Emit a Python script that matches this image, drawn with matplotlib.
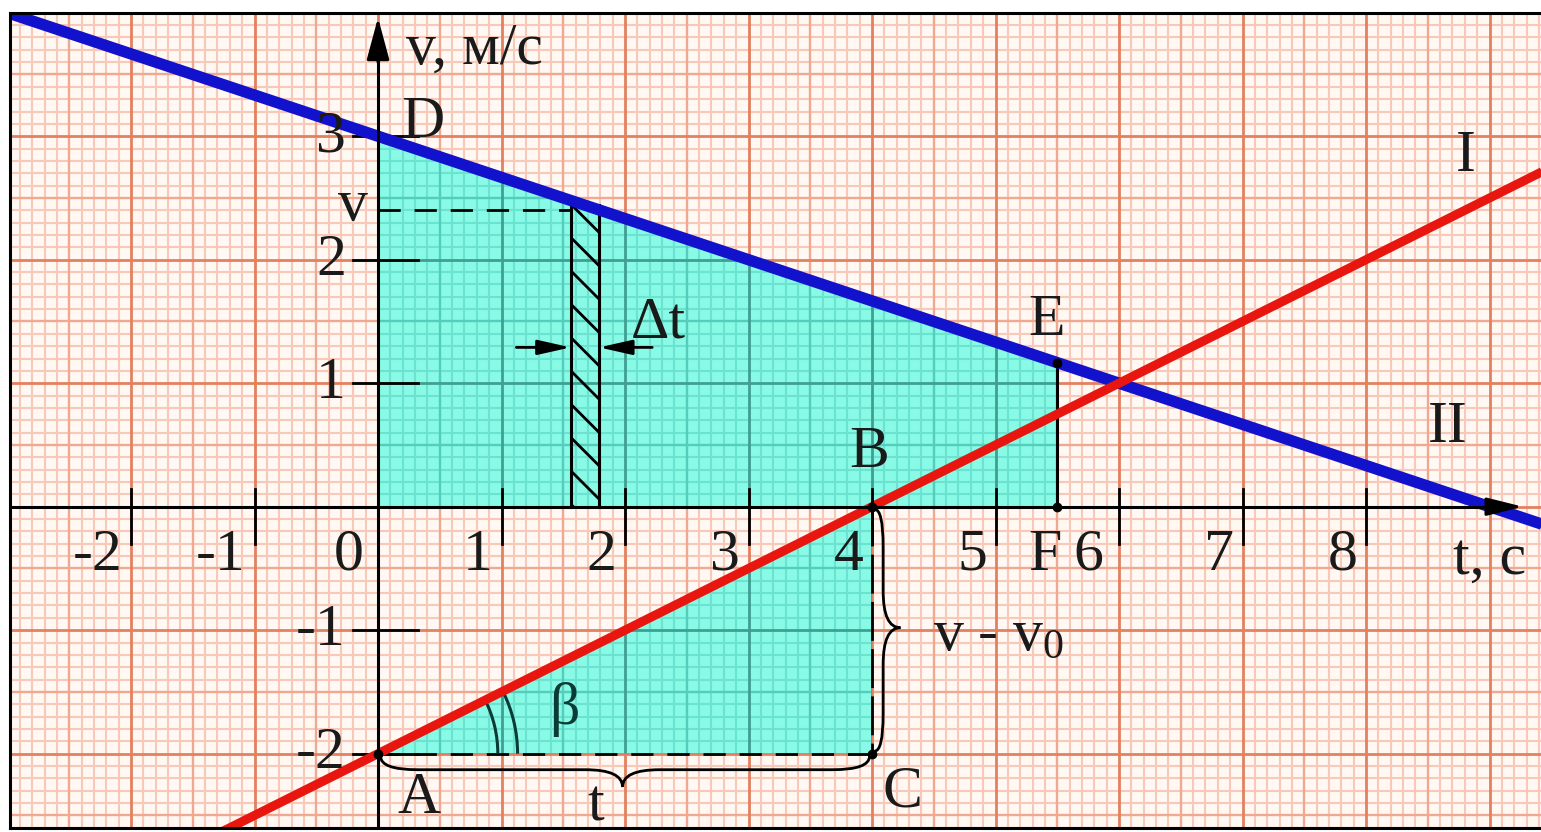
import numpy as np
import matplotlib
matplotlib.use("Agg")
import matplotlib.pyplot as plt
from matplotlib.collections import LineCollection
from matplotlib.path import Path
from matplotlib.patches import PathPatch, Rectangle, Arc

plt.rcParams['font.family'] = ['Liberation Serif', 'DejaVu Serif']
plt.rcParams['mathtext.fontset'] = 'custom'
plt.rcParams['mathtext.rm'] = 'Liberation Serif'
plt.rcParams['mathtext.it'] = 'Liberation Serif'
plt.rcParams['hatch.linewidth'] = 2.0

# ---------------- data ----------------
x_ticks = [-2, -1, 1, 2, 3, 4, 5, 6, 7, 8]
x_tick_labels = ['-2', '-1', '1', '2', '3', '4', '5', '6', '7', '8']
y_ticks = [-2, -1, 1, 2, 3]
y_tick_labels = ['-2', '-1', '1', '2', '3']

# line I (red): passes A(0,-2) and B(4,0)
line_I_t = [-1.4, 9.6]
line_I_v = [-2.7, 2.8]
# line II (blue): passes D(0,3) and (6,1)
line_II_t = [-3.2, 9.6]
line_II_v = [4.0667, -0.2]

# named points
pt_A = (0.0, -2.0)
pt_B = (4.0, 0.0)
pt_C = (4.0, -2.0)
pt_D = (0.0, 3.0)
pt_E = (5.5, 1.1667)
pt_F = (5.5, 0.0)
v_level = 2.4
strip_t = [1.56, 1.79]

# ---------------- figure ----------------
W, H = 1541, 832
fig = plt.figure(figsize=(W / 100, H / 100), dpi=100)
fig.patch.set_facecolor('white')
ax = fig.add_axes([10 / W, 4 / H, (W - 10) / W, (828 - 12.5) / H])
ax.set_xlim(-2.98, 9.417)
ax.set_ylim(-2.602, 4.002)
ax.set_facecolor('#FFF8F3')
ax.set_xticks([])
ax.set_yticks([])
for s in ['top', 'left', 'bottom']:
    ax.spines[s].set_linewidth(2.2)
    ax.spines[s].set_color('black')
    ax.spines[s].set_zorder(20)
ax.spines['right'].set_visible(False)

# ---------------- graph paper grid ----------------
xs = np.round(np.arange(-30, 95) / 10, 1)
ys = np.round(np.arange(-27, 41) / 10, 1)


def grid_segments(kind):
    segs = []
    for x in xs:
        k = int(round(x * 10))
        cls = 'major' if k % 10 == 0 else ('mid' if k % 5 == 0 else 'fine')
        if cls == kind:
            segs.append([(x, -3), (x, 4.5)])
    for y in ys:
        k = int(round(y * 10))
        cls = 'major' if k % 10 == 0 else ('mid' if k % 5 == 0 else 'fine')
        if cls == kind:
            segs.append([(-3.5, y), (10, y)])
    return segs


paper_style = {'fine': ('#F8C9B8', 1.5, 0.5),
               'mid': ('#F0A890', 1.7, 0.6),
               'major': ('#E2805F', 2.0, 0.7)}
for kind, (c, lw, z) in paper_style.items():
    ax.add_collection(LineCollection(grid_segments(kind), colors=c,
                                     linewidths=lw, zorder=z))

# ---------------- cyan regions ----------------
trap = [(0, 0), pt_D, pt_E, pt_F, (0, 0)]
tri = [pt_A, pt_B, pt_C, pt_A]
cpath = Path.make_compound_path(Path(trap, closed=True), Path(tri, closed=True))
ax.add_patch(PathPatch(cpath, facecolor='#88FAE5', edgecolor='none', zorder=1))
clip_patch = PathPatch(cpath, transform=ax.transData, facecolor='none')

teal_style = {'fine': ('#6CE2D0', 1.5, 1.2),
              'mid': ('#55CDBC', 1.7, 1.3),
              'major': ('#409F92', 2.0, 1.4)}
for kind, (c, lw, z) in teal_style.items():
    lc = LineCollection(grid_segments(kind), colors=c, linewidths=lw, zorder=z)
    ax.add_collection(lc)
    lc.set_clip_path(clip_patch)

# ---------------- hatched strip ----------------
ax.add_patch(Rectangle((strip_t[0], 0), strip_t[1] - strip_t[0], v_level + 0.03,
                       facecolor='none', edgecolor='black', hatch='\\',
                       linewidth=0, zorder=2))
for tt in strip_t:
    ax.plot([tt, tt], [0, v_level + 0.04], color='black', lw=2.2, zorder=2.5)

# dashed lines
ax.plot([0, strip_t[0]], [v_level, v_level], color='black', lw=2.0,
        dashes=(8, 5), zorder=2.5)
ax.plot([pt_A[0], pt_C[0]], [pt_A[1], pt_C[1]], color='black', lw=2.0,
        dashes=(8, 5), zorder=2.5)
ax.plot([pt_B[0], pt_C[0]], [pt_B[1], pt_C[1]], color='black', lw=2.0,
        dashes=(14, 3), zorder=2.5)
# E-F solid
ax.plot([pt_E[0], pt_F[0]], [pt_E[1], pt_F[1]], color='black', lw=2.2, zorder=2.5)

# ---------------- axes with arrows ----------------
ax.plot([-3.0, 9.1], [0, 0], color='black', lw=2.2, zorder=5)
ax.annotate('', xy=(9.27, 0), xytext=(9.0, 0),
            arrowprops=dict(arrowstyle='-|>,head_length=2.2,head_width=0.55',
                            color='black', lw=2.2, shrinkA=0, shrinkB=0),
            zorder=6)
ax.plot([0, 0], [-2.7, 3.7], color='black', lw=2.2, zorder=5)
ax.annotate('', xy=(0, 3.96), xytext=(0, 3.6),
            arrowprops=dict(arrowstyle='-|>,head_length=2.6,head_width=0.7',
                            color='black', lw=2.2, shrinkA=0, shrinkB=0),
            zorder=6)

# tick marks
for t in x_ticks:
    ax.plot([t, t], [0.14, -0.3], color='black', lw=2.0, zorder=5)
for v in y_ticks:
    ax.plot([-0.2, 0.32], [v, v], color='black', lw=2.0, zorder=3)

# ---------------- velocity lines ----------------
ax.plot(line_II_t, line_II_v, color='#1212CC', lw=8.2, zorder=4,
        solid_capstyle='butt')
ax.plot(line_I_t, line_I_v, color='#E8160E', lw=6.5, zorder=4.5,
        solid_capstyle='butt')

# dots
for p in [pt_A, pt_B, pt_C, pt_E, pt_F]:
    ax.plot(*p, 'o', color='black', ms=6, zorder=7)

# delta t arrows
ax.annotate('', xy=(strip_t[0], 1.29), xytext=(1.12, 1.29),
            arrowprops=dict(arrowstyle='-|>,head_length=2.0,head_width=0.45',
                            color='black', lw=2.0, shrinkA=0, shrinkB=0))
ax.annotate('', xy=(strip_t[1], 1.29), xytext=(2.22, 1.29),
            arrowprops=dict(arrowstyle='-|>,head_length=2.0,head_width=0.45',
                            color='black', lw=2.0, shrinkA=0, shrinkB=0))

# beta arcs
for r in (0.97, 1.13):
    ax.add_patch(Arc(pt_A, 2 * r, 2 * r, theta1=0, theta2=26.57,
                     color='#0B3B36', lw=2.2, zorder=3))


# braces
def brace(p_end0, p_mid0, p_mid_a, p_tip_ctrl, p_tip, p_mid_b, p_mid1, p_end1,
          c0, c1):
    verts = [p_end0, c0, p_mid0, p_mid_a, p_tip_ctrl, p_tip, p_tip_ctrl,
             p_mid_b, p_mid1, c1, p_end1]
    codes = [Path.MOVETO, Path.CURVE3, Path.CURVE3, Path.LINETO, Path.CURVE3,
             Path.CURVE3, Path.CURVE3, Path.CURVE3, Path.LINETO, Path.CURVE3,
             Path.CURVE3]
    return Path(verts, codes)


# horizontal brace under AC
x0, x1, ye, ym, ytip, xm, r = 0.02, 3.98, -2.02, -2.13, -2.27, 1.98, 0.3
hb = brace((x0, ye), (x0 + r, ym), (xm - r, ym), (xm, ym), (xm, ytip),
           (xm + r, ym), (x1 - r, ym), (x1, ye), (x0, ym), (x1, ym))
ax.add_patch(PathPatch(hb, facecolor='none', edgecolor='black', lw=2.0, zorder=3))
# vertical brace right of BC
ye0, ye1, xe, xmid, xtip, ymv, r = -0.02, -1.98, 4.02, 4.09, 4.23, -0.98, 0.3
vb = brace((xe, ye0), (xmid, ye0 - r), (xmid, ymv + r), (xmid, ymv), (xtip, ymv),
           (xmid, ymv - r), (xmid, ye1 + r), (xe, ye1), (xmid, ye0), (xmid, ye1))
ax.add_patch(PathPatch(vb, facecolor='none', edgecolor='black', lw=2.0, zorder=3))

# ---------------- text ----------------
FS = 43
txt = dict(fontsize=FS, color='#1A1A1A', zorder=8)
for t, lab in zip(x_ticks, x_tick_labels):
    if t == 6:
        continue
    ax.text(t - 0.07, -0.51, lab, ha='right', va='baseline', **txt)
ax.text(5.87, -0.51, '6', ha='right', va='baseline', **txt)
ax.text(5.40, -0.51, 'F', ha='center', va='baseline', **txt)
ax.text(-0.12, -0.51, '0', ha='right', va='baseline', **txt)
for v, lab in zip(y_ticks, y_tick_labels):
    ax.text(-0.26, v - 0.12, lab, ha='right', va='baseline', **txt)

ax.text(0.23, 3.59, 'v, м/с', ha='left', va='baseline', **txt)
ax.text(9.0, -0.54, 't, с', ha='center', va='baseline', **txt)
ax.text(0.36, 2.99, 'D', ha='center', va='baseline', **txt)
ax.text(-0.20, 2.32, 'v', ha='center', va='baseline', **txt)
ax.text(5.41, 1.39, 'E', ha='center', va='baseline', **txt)
ax.text(3.98, 0.32, 'B', ha='center', va='baseline', **txt)
ax.text(8.81, 2.72, 'I', ha='center', va='baseline', **txt)
ax.text(8.66, 0.52, 'II', ha='center', va='baseline', **txt)
ax.text(2.27, 1.37, 'Δt', ha='center', va='baseline', **txt)
ax.text(1.51, -1.76, 'β', ha='center', va='baseline',
        fontsize=FS, color='#0B3B36', zorder=8)
ax.text(0.33, -2.48, 'A', ha='center', va='baseline', **txt)
ax.text(1.76, -2.54, 't', ha='center', va='baseline', **txt)
ax.text(4.25, -2.43, 'C', ha='center', va='baseline', **txt)
ax.text(4.49, -1.16, r'v - v$_0$', ha='left', va='baseline', **txt)

fig.savefig('out.png', dpi=100, facecolor='white')
